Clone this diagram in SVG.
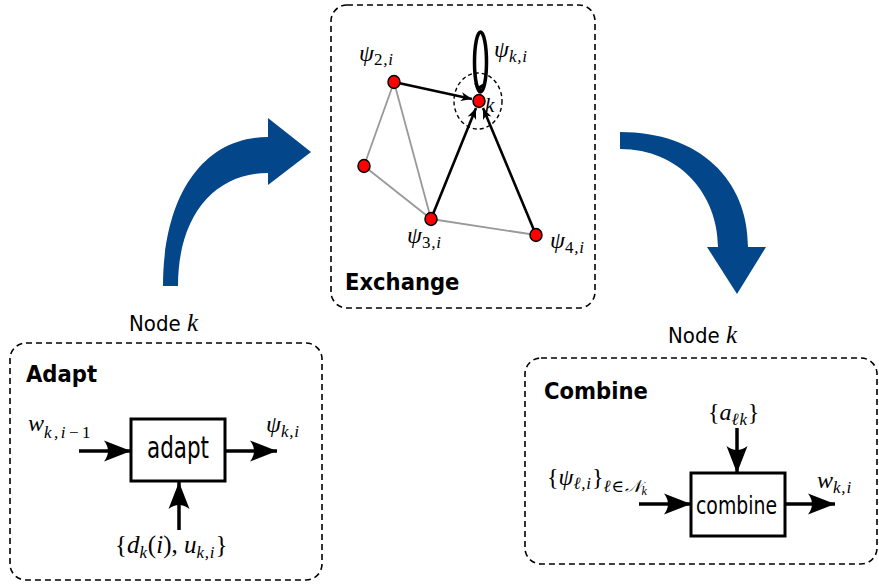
<svg xmlns="http://www.w3.org/2000/svg" width="879" height="588" viewBox="0 0 879 588">
  <style>
    .panel { fill: none; stroke: #000; stroke-width: 1.6; stroke-dasharray: 6 4; }
    .title { font-family: "DejaVu Sans Condensed", "DejaVu Sans", sans-serif; font-stretch: condensed; font-weight: bold; font-size: 23.5px; fill: #000; }
    .sans { font-family: "DejaVu Sans Condensed", "DejaVu Sans", sans-serif; font-stretch: condensed; font-size: 21.5px; fill: #000; }
    .math { font-family: "Liberation Serif", "DejaVu Serif", serif; font-style: italic; font-size: 24px; fill: #000; }
    .up { font-style: normal; }
    .sub { font-size: 17px; letter-spacing: 0.8px; }
    .block { fill: #fff; stroke: #000; stroke-width: 3; }
    .flow { fill: none; stroke: #000; stroke-width: 3.5; marker-end: url(#bigHead); }
    .link { fill: none; stroke: #999; stroke-width: 1.8; }
    .msg { fill: none; stroke: #000; stroke-width: 2.6; marker-end: url(#smallHead); }
    .agent { fill: #f00; stroke: #000; stroke-width: 1.5; }
    .bigarrow { fill: #03468a; }
  </style>
  <defs>
    <marker id="bigHead" markerUnits="userSpaceOnUse" markerWidth="30" markerHeight="24" viewBox="-28 -12 30 24" refX="0" refY="0" orient="auto">
      <path d="M0,0 L-27,-10.5 Q-19,0 -27,10.5 Z" fill="#000"/>
    </marker>
    <marker id="smallHead" markerUnits="userSpaceOnUse" markerWidth="14" markerHeight="12" viewBox="-13 -6 14 12" refX="0" refY="0" orient="auto">
      <path d="M0,0 L-11,-4.5 L-8,0 L-11,4.5 Z" fill="#000"/>
    </marker>
  </defs>

  <!-- large curved flow arrows between the stages -->
  <g id="flow-arrows">
    <path class="bigarrow" d="M163,286 C163,200 200,137 268,137 L268,118 L311,152 L268,185 L268,173 C215,173 178,215 178,286 Z"/>
    <path class="bigarrow" d="M620,132 C700,132 748,180 748,247 L766,247 L737,294 L707,247 L718,247 C718,195 680,149 620,149 Z"/>
  </g>

  <!-- Exchange stage -->
  <g id="exchange">
    <rect class="panel" x="331" y="5" width="264" height="303" rx="16"/>
    <text class="title" x="345" y="290">Exchange</text>
    <ellipse cx="478" cy="101" rx="24" ry="28" fill="none" stroke="#000" stroke-width="1.4" stroke-dasharray="4 3"/>
    <g id="net-links">
      <line class="link" x1="394" y1="82" x2="364" y2="166"/>
      <line class="link" x1="394" y1="82" x2="431" y2="219"/>
      <line class="link" x1="364" y1="166" x2="431" y2="219"/>
      <line class="link" x1="431" y1="219" x2="536" y2="235"/>
      <path class="msg" d="M394,82 L472,99"/>
      <path class="msg" d="M431,219 L476,108"/>
      <path class="msg" d="M536,235 L483,108"/>
      <ellipse cx="480.5" cy="62" rx="6" ry="30" fill="none" stroke="#000" stroke-width="3.5"/>
      <path d="M479,94 L474,83 L479,86 L484,83 Z" fill="#000"/>
    </g>
    <g id="agents">
      <ellipse class="agent" cx="394" cy="82" rx="6" ry="6.5"/>
      <ellipse class="agent" cx="479" cy="101" rx="6" ry="6.5"/>
      <ellipse class="agent" cx="364" cy="166" rx="6" ry="6.5"/>
      <ellipse class="agent" cx="431" cy="219" rx="6" ry="6.5"/>
      <ellipse class="agent" cx="536" cy="235" rx="6" ry="6.5"/>
    </g>
    <text class="math" x="359" y="61">ψ<tspan class="sub up" dy="4">2</tspan><tspan class="sub">,i</tspan></text>
    <text class="math" x="494" y="57">ψ<tspan class="sub" dy="5">k,i</tspan></text>
    <text class="math" x="485" y="112" style="font-size:21px">k</text>
    <text class="math" x="407" y="243">ψ<tspan class="sub up" dy="5">3</tspan><tspan class="sub">,i</tspan></text>
    <text class="math" x="550" y="248">ψ<tspan class="sub up" dy="5">4</tspan><tspan class="sub">,i</tspan></text>
  </g>

  <!-- Adapt stage -->
  <g id="adapt">
    <text class="sans" x="129" y="331" style="font-size:22px">Node <tspan class="math" style="font-size:25px">k</tspan></text>
    <rect class="panel" x="10" y="343" width="312" height="237" rx="16"/>
    <text class="title" x="26" y="382">Adapt</text>
    <rect class="block" x="131" y="419" width="94" height="62"/>
    <text class="sans" x="147" y="458" style="font-size:30px" textLength="62" lengthAdjust="spacingAndGlyphs">adapt</text>
    <text class="math" x="28" y="431">w<tspan class="sub" dy="7" style="letter-spacing:2.5px">k,i−</tspan><tspan class="sub up">1</tspan></text>
    <text class="math" x="266" y="432">ψ<tspan class="sub" dy="5">k,i</tspan></text>
    <text class="math" x="115" y="553" style="font-size:25px"><tspan class="up">{</tspan>d<tspan class="sub" dy="5">k</tspan><tspan class="up" dy="-5">(</tspan>i<tspan class="up">), </tspan>u<tspan class="sub" dy="5">k,i</tspan><tspan class="up" dy="-5">}</tspan></text>
  </g>

  <!-- Combine stage -->
  <g id="combine">
    <text class="sans" x="668" y="343" style="font-size:22px">Node <tspan class="math" style="font-size:25px">k</tspan></text>
    <rect class="panel" x="525" y="358" width="352" height="206" rx="16"/>
    <text class="title" x="544" y="399">Combine</text>
    <rect class="block" x="691" y="473" width="94" height="63"/>
    <text class="sans" x="696" y="514" style="font-size:25px" textLength="81" lengthAdjust="spacingAndGlyphs">combine</text>
    <text class="math" x="708" y="420"><tspan class="up">{</tspan>a<tspan class="sub" dy="5">ℓk</tspan><tspan class="up" dy="-5">}</tspan></text>
    <text class="math" x="547" y="485"><tspan class="up">{</tspan>ψ<tspan class="sub" dy="4">ℓ,i</tspan><tspan class="up" dy="-4">}</tspan><tspan class="sub" dy="7">ℓ∈𝒩</tspan><tspan class="sub" style="font-size:12px" dy="3">k</tspan></text>
    <text class="math" x="817" y="488">w<tspan class="sub" dy="5">k,i</tspan></text>
  </g>

  <!-- block-diagram connectors -->
  <g id="connectors">
    <line class="flow" x1="79" y1="451" x2="131" y2="451"/>
    <line class="flow" x1="225" y1="451" x2="277" y2="451"/>
    <line class="flow" x1="179" y1="530" x2="179" y2="482"/>
    <line class="flow" x1="737" y1="428" x2="737" y2="473"/>
    <line class="flow" x1="639" y1="504" x2="691" y2="504"/>
    <line class="flow" x1="785" y1="504" x2="835" y2="504"/>
  </g>
</svg>
